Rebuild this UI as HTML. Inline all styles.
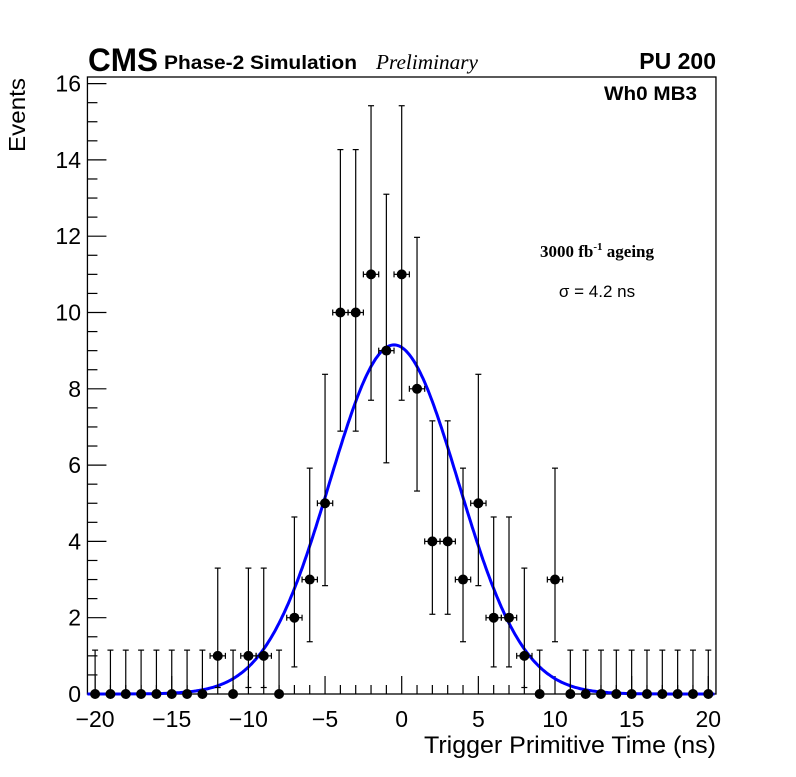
<!DOCTYPE html>
<html><head><meta charset="utf-8"><style>
body{margin:0;background:#fff;}
svg text{font-family:"Liberation Sans",sans-serif;}
</style></head><body>
<svg id="c" width="796" height="772" xmlns="http://www.w3.org/2000/svg">
<rect x="0" y="0" width="796" height="772" fill="#fff"/>
<text x="88" y="71" font-size="32" font-weight="bold" textLength="70" lengthAdjust="spacingAndGlyphs">CMS</text>
<text x="164" y="69" font-size="19" font-weight="bold" textLength="193" lengthAdjust="spacingAndGlyphs">Phase-2 Simulation</text>
<text x="376" y="69" font-size="21" font-style="italic" textLength="102" lengthAdjust="spacingAndGlyphs" style="font-family:'Liberation Serif',serif">Preliminary</text>
<text x="716" y="69" font-size="23" font-weight="bold" text-anchor="end">PU 200</text>
<text x="697" y="100" font-size="19" font-weight="bold" text-anchor="end" textLength="93" lengthAdjust="spacingAndGlyphs">Wh0 MB3</text>
<text x="597" y="257" font-size="17" font-weight="bold" text-anchor="middle" style="font-family:'Liberation Serif',serif">3000 fb<tspan font-size="11" dy="-7">-1</tspan><tspan dy="7"> ageing</tspan></text>
<text x="597" y="297" font-size="17" text-anchor="middle">σ = 4.2 ns</text>
<text x="716" y="753" font-size="24" text-anchor="end" textLength="292" lengthAdjust="spacingAndGlyphs">Trigger Primitive Time (ns)</text>
<text transform="translate(25,152) rotate(-90)" font-size="23" textLength="74" lengthAdjust="spacingAndGlyphs">Events</text>
<g id="axes"></g><g id="marks"></g>
</svg>
<script>
const xCenters=[-20,-19,-18,-17,-16,-15,-14,-13,-12,-11,-10,-9,-8,-7,-6,-5,-4,-3,-2,-1,0,1,2,3,4,5,6,7,8,9,10,11,12,13,14,15,16,17,18,19,20];
const counts=[0,0,0,0,0,0,0,0,1,0,1,1,0,2,3,5,10,10,11,9,11,8,4,4,3,5,2,2,1,0,3,0,0,0,0,0,0,0,0,0,0];
const poisLo={0:0,1:0.17,2:0.71,3:1.37,4:2.09,5:2.84,8:5.32,9:6.06,10:6.89,11:7.7};
const poisHi={0:1.15,1:3.3,2:4.64,3:5.92,4:7.16,5:8.38,8:11.97,9:13.1,10:14.27,11:15.42};
const fitParams=[9.15,-0.5,4.2];
const xTicks=[-20,-15,-10,-5,0,5,10,15,20];
const yTicks=[0,2,4,6,8,10,12,14,16];
const NS="http://www.w3.org/2000/svg";
const X=v=>401.7+15.33*v, Y=v=>694-38.15*v;
function mk(t,a,p){const e=document.createElementNS(NS,t);for(const k in a)e.setAttribute(k,a[k]);p.appendChild(e);return e;}
const ax=document.getElementById('axes'), mg=document.getElementById('marks');
const fr=mk('rect',{x:X(-20.5),y:77,width:X(20.5)-X(-20.5),height:694-77,fill:'none',stroke:'#000','stroke-width':1.3},ax);


for(let v=-20;v<=20;v++){const maj=v%5===0;const l=mk('line',{x1:X(v),x2:X(v),y1:694,y2:694-(maj?18:9),stroke:'#000','stroke-width':1.2},ax);

}
for(let v=0;v<=16;v+=0.5){const maj=v%2===0;const l=mk('line',{x1:X(-20.5),x2:X(-20.5)+(maj?19:10),y1:Y(v),y2:Y(v),stroke:'#000','stroke-width':1.2},ax);

}
xTicks.forEach(v=>{const t=mk('text',{x:X(v),y:727,'font-size':23,'text-anchor':'middle'},ax);t.textContent=(v<0?'\u2212':'')+Math.abs(v);

});
yTicks.forEach(v=>{const t=mk('text',{x:81,y:Y(v)+8,'font-size':23,'text-anchor':'end'},ax);t.textContent=v;

});
let d='';for(let v=-20.5;v<=20.5;v+=0.1){const f=fitParams[0]*Math.exp(-Math.pow(v-fitParams[1],2)/(2*fitParams[2]*fitParams[2]));d+=(d?'L':'M')+X(v).toFixed(1)+','+Y(f).toFixed(1);}
const fc=mk('path',{d:d,fill:'none',stroke:'#0000ff','stroke-width':3},mg);


xCenters.forEach((c,i)=>{const n=counts[i];const g=mk('g',{},mg);


const lo=poisLo[n]!==undefined?poisLo[n]:Math.max(0,n-Math.sqrt(n)), hi=poisHi[n]!==undefined?poisHi[n]:n+Math.sqrt(n);
const s={stroke:'#000','stroke-width':1.2};
mk('line',Object.assign({x1:X(c),x2:X(c),y1:Y(lo),y2:Y(hi)},s),g);
mk('line',Object.assign({x1:X(c)-3,x2:X(c)+3,y1:Y(hi),y2:Y(hi)},s),g);
if(n>0){mk('line',Object.assign({x1:X(c)-3,x2:X(c)+3,y1:Y(lo),y2:Y(lo)},s),g);
mk('line',Object.assign({x1:X(c-0.5),x2:X(c+0.5),y1:Y(n),y2:Y(n)},s),g);
mk('line',Object.assign({x1:X(c-0.5),x2:X(c-0.5),y1:Y(n)-3,y2:Y(n)+3},s),g);
mk('line',Object.assign({x1:X(c+0.5),x2:X(c+0.5),y1:Y(n)-3,y2:Y(n)+3},s),g);}
mk('circle',{cx:X(c),cy:Y(n),r:5,fill:'#000'},g);});
</script>
</body></html>
